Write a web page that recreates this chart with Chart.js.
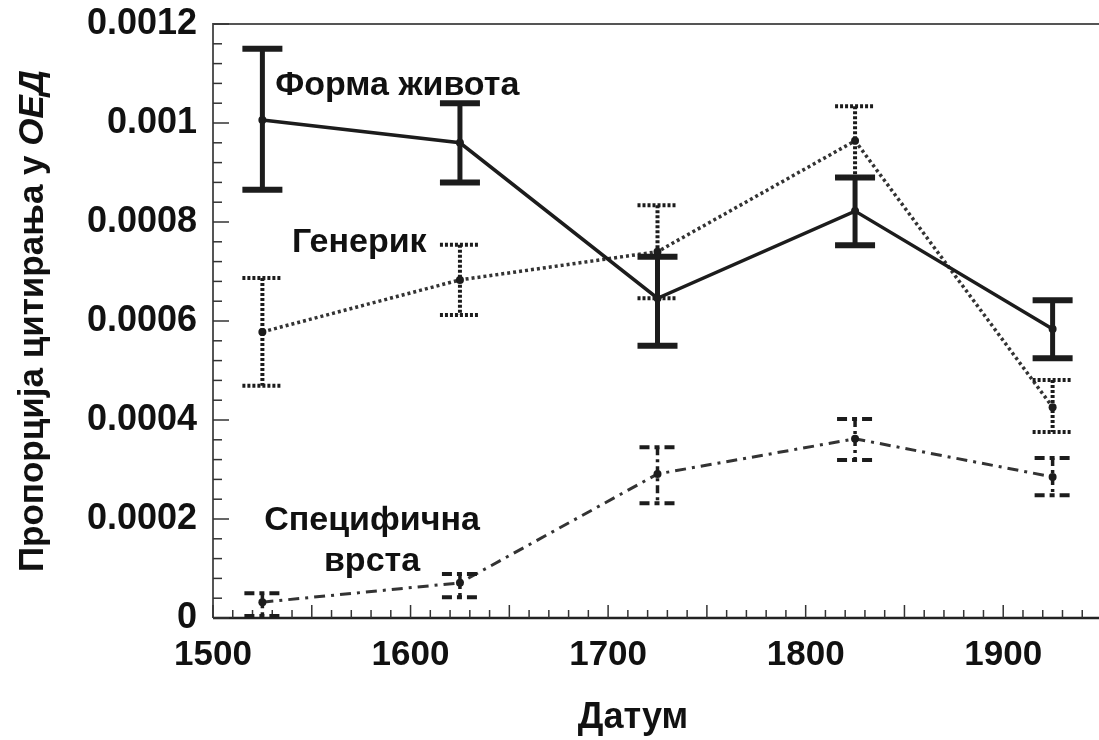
<!DOCTYPE html>
<html>
<head>
<meta charset="utf-8">
<script src="https://cdn.jsdelivr.net/npm/chart.js@4.4.1/dist/chart.umd.min.js"></script>
<style>
  html, body { margin: 0; padding: 0; background: #fff; overflow: hidden; }
  #wrap { width: 1120px; height: 740px; }
</style>
</head>
<body>
<div id="wrap"><canvas id="c" width="1120" height="740"></canvas></div>
<script>
// ---- data ----
const years = [1525, 1625, 1725, 1825, 1925];
const formaMean = [0.001006, 0.00096, 0.000646, 0.000822, 0.000584];
const formaLow  = [0.000865, 0.00088, 0.00055, 0.000753, 0.000525];
const formaHigh = [0.00115, 0.00104, 0.00073, 0.00089, 0.000642];
const generikMean = [0.000578, 0.000683, 0.00074, 0.000964, 0.000426];
const generikLow  = [0.000469, 0.000612, 0.000646, 0.000891, 0.000376];
const generikHigh = [0.000687, 0.000754, 0.000834, 0.001034, 0.000481];
const specMean = [0.000032, 0.000071, 0.000291, 0.000362, 0.000285];
const specLow  = [0.000004, 0.000042, 0.000232, 0.000319, 0.000248];
const specHigh = [0.00005, 0.000089, 0.000345, 0.000402, 0.000323];
const xTickValues = [1500, 1600, 1700, 1800, 1900];
const xTickLabels = ['1500', '1600', '1700', '1800', '1900'];
const yTickValues = [0, 0.0002, 0.0004, 0.0006, 0.0008, 0.001, 0.0012];
const yTickLabels = ['0', '0.0002', '0.0004', '0.0006', '0.0008', '0.001', '0.0012'];
const seriesNames = ['Форма живота', 'Генерик', 'Специфична врста'];
const xTitle = 'Датум';
const yTitlePlain = 'Пропорција цитирања у ';
const yTitleItalic = 'ОЕД';

// ---- styles / layout (not data) ----
const FONT = '"Liberation Sans", Arial, Helvetica, sans-serif';
const INK = '#1c1c1c';
const labelAnchors = [
  { text: 'Форма живота', x: 1531.5, y: 0.001075, align: 'left' },
  { text: 'Генерик', x: 1540, y: 0.000758, align: 'left' },
  { text: 'Специфична', x: 1580.5, y: 0.000196, align: 'center' },
  { text: 'врста', x: 1580.5, y: 0.000114, align: 'center' }
];
const errStyles = [
  { vw: 5, vdash: [], cw: 6, cdash: [], half: 20 },
  { vw: 4, vdash: [3, 2], cw: 4, cdash: [3, 2], half: 20 },
  { vw: 3.5, vdash: [8, 4, 3, 4], cw: 4, cdash: [10, 5, 5, 5], half: 18 }
];
const errLow = [formaLow, generikLow, specLow];
const errHigh = [formaHigh, generikHigh, specHigh];

function pts(arr) { return years.map((y, i) => ({ x: y, y: arr[i] })); }

const decorPlugin = {
  id: 'decor',
  beforeDatasetsDraw(chart) {
    const { ctx, chartArea: a, scales: { x, y } } = chart;
    ctx.save();
    // frame
    ctx.strokeStyle = '#555';
    ctx.lineWidth = 2;
    ctx.beginPath();
    ctx.moveTo(a.left, a.bottom);
    ctx.lineTo(a.left, a.top);
    ctx.lineTo(a.right + 20, a.top);
    ctx.stroke();
    ctx.strokeStyle = '#222';
    ctx.lineWidth = 2.5;
    ctx.beginPath();
    ctx.moveTo(a.left, a.bottom);
    ctx.lineTo(a.right + 20, a.bottom);
    ctx.stroke();
    // inside ticks, x
    ctx.lineWidth = 1.5;
    ctx.strokeStyle = '#333';
    for (let v = 1500; v <= 1950; v += 10) {
      const px = x.getPixelForValue(v);
      const len = (v % 50 === 0) ? 13 : 8;
      ctx.beginPath();
      ctx.moveTo(px, a.bottom);
      ctx.lineTo(px, a.bottom - len);
      ctx.stroke();
    }
    // inside ticks, y
    for (let k = 0; k <= 30; k++) {
      const v = k * 0.00004;
      const py = y.getPixelForValue(v);
      const len = (k % 5 === 0) ? 16 : 9;
      ctx.beginPath();
      ctx.moveTo(a.left, py);
      ctx.lineTo(a.left + len, py);
      ctx.stroke();
    }
    ctx.restore();
  },
  afterDatasetsDraw(chart) {
    const { ctx, scales: { x, y } } = chart;
    ctx.save();
    ctx.strokeStyle = INK;
    ctx.lineCap = 'butt';
    for (let s = 0; s < 3; s++) {
      const st = errStyles[s];
      for (let i = 0; i < years.length; i++) {
        const px = x.getPixelForValue(years[i]);
        const pl = y.getPixelForValue(errLow[s][i]);
        const ph = y.getPixelForValue(errHigh[s][i]);
        ctx.lineWidth = st.vw;
        ctx.setLineDash(st.vdash);
        ctx.beginPath();
        ctx.moveTo(px, ph);
        ctx.lineTo(px, pl);
        ctx.stroke();
        ctx.lineWidth = st.cw;
        ctx.setLineDash(st.cdash);
        ctx.beginPath();
        ctx.moveTo(px - st.half, ph);
        ctx.lineTo(px + st.half, ph);
        ctx.moveTo(px - st.half, pl);
        ctx.lineTo(px + st.half, pl);
        ctx.stroke();
      }
    }
    ctx.setLineDash([]);
    // series labels
    ctx.fillStyle = '#111';
    ctx.font = 'bold 34px ' + FONT;
    ctx.textBaseline = 'middle';
    labelAnchors.forEach(l => {
      ctx.textAlign = l.align;
      ctx.fillText(l.text, x.getPixelForValue(l.x), y.getPixelForValue(l.y));
    });
    ctx.restore();
  },
  afterDraw(chart) {
    const { ctx, chartArea: a } = chart;
    ctx.save();
    ctx.fillStyle = '#111';
    ctx.textBaseline = 'middle';
    // x title
    ctx.font = 'bold 36px ' + FONT;
    ctx.textAlign = 'center';
    ctx.fillText(xTitle, a.left + 420, 718);
    // y title
    const fPlain = 'bold 35px ' + FONT;
    const fItal = 'italic bold 35px ' + FONT;
    ctx.font = fPlain;
    const w1 = ctx.measureText(yTitlePlain).width;
    ctx.font = fItal;
    const w2 = ctx.measureText(yTitleItalic).width;
    const cy = (a.top + a.bottom) / 2;
    ctx.translate(33, cy);
    ctx.rotate(-Math.PI / 2);
    ctx.textAlign = 'left';
    ctx.font = fPlain;
    ctx.fillText(yTitlePlain, -(w1 + w2) / 2, 0);
    ctx.font = fItal;
    ctx.fillText(yTitleItalic, -(w1 + w2) / 2 + w1, 0);
    ctx.restore();
  }
};

new Chart(document.getElementById('c'), {
  type: 'line',
  data: {
    datasets: [
      {
        label: seriesNames[0], data: pts(formaMean),
        borderColor: INK, backgroundColor: INK, borderWidth: 3.5,
        pointRadius: 4, pointBackgroundColor: INK, pointBorderWidth: 0
      },
      {
        label: seriesNames[1], data: pts(generikMean),
        borderColor: '#333', backgroundColor: INK, borderWidth: 3.5, borderDash: [3, 3],
        pointRadius: 4, pointBackgroundColor: INK, pointBorderWidth: 0
      },
      {
        label: seriesNames[2], data: pts(specMean),
        borderColor: '#333', backgroundColor: INK, borderWidth: 3, borderDash: [11, 6, 3, 6],
        pointRadius: 4, pointBackgroundColor: INK, pointBorderWidth: 0
      }
    ]
  },
  options: {
    responsive: false,
    animation: false,
    devicePixelRatio: 1,
    clip: false,
    layout: { autoPadding: false, padding: { top: 24, right: 18, left: 0, bottom: 0 } },
    plugins: { legend: { display: false }, tooltip: { enabled: false } },
    scales: {
      x: {
        type: 'linear', min: 1500, max: 1950,
        grid: { display: false, drawTicks: false },
        border: { display: false },
        afterBuildTicks: s => { s.ticks = xTickValues.map(v => ({ value: v })); },
        afterFit: s => { s.height = 122; s.paddingLeft = 0; s.paddingRight = 0; },
        ticks: {
          padding: 16, color: '#111', maxRotation: 0, autoSkip: false,
          font: { family: FONT, size: 35, weight: 'bold' },
          callback: (v) => { const i = xTickValues.indexOf(v); return i >= 0 ? xTickLabels[i] : ''; }
        },
        title: { display: false, text: xTitle }
      },
      y: {
        type: 'linear', min: 0, max: 0.0012,
        grid: { display: false, drawTicks: false },
        border: { display: false },
        afterBuildTicks: s => { s.ticks = yTickValues.map(v => ({ value: v })); },
        afterFit: s => { s.width = 213; s.paddingTop = 0; s.paddingBottom = 0; },
        ticks: {
          padding: 16, color: '#111', autoSkip: false,
          font: { family: FONT, size: 36, weight: 'bold' },
          callback: (v) => {
            let best = 0;
            yTickValues.forEach((t, i) => { if (Math.abs(t - v) < Math.abs(yTickValues[best] - v)) best = i; });
            return yTickLabels[best];
          }
        }
      }
    }
  },
  plugins: [decorPlugin]
});
</script>
</body>
</html>
